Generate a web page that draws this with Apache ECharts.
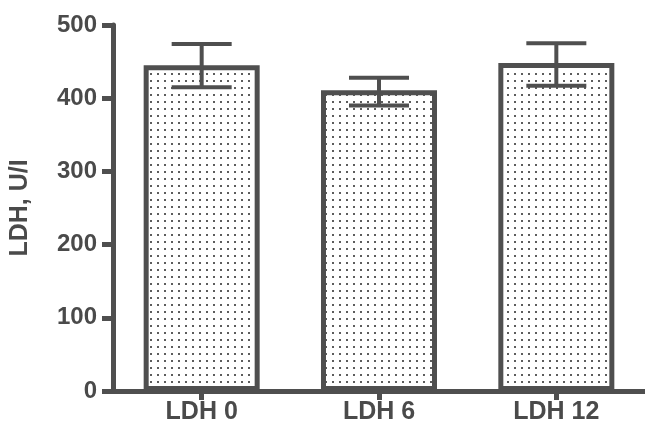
<!DOCTYPE html>
<html><head><meta charset="utf-8">
<script src="https://cdn.jsdelivr.net/npm/echarts@6/dist/echarts.min.js"></script>
<style>html,body{margin:0;padding:0;background:#fff}#c{width:645px;height:427px}</style>
</head><body><div id="c"></div>
<script>
var categories = ['LDH 0', 'LDH 6', 'LDH 12'];
var means = [445, 411, 448];
var errLow = [415, 390, 417];
var errHigh = [474, 428, 475];
var yTicks = [0, 100, 200, 300, 400, 500];

var ink = '#4f4f4f';
// dotted fill pattern
var pc = document.createElement('canvas');
pc.width = 7; pc.height = 7;
var px = pc.getContext('2d');
px.fillStyle = '#ffffff'; px.fillRect(0, 0, 7, 7);
px.fillStyle = '#5c5c5c';
px.fillRect(3, 3, 2, 2);

var chart = echarts.init(document.getElementById('c'));
chart.setOption({
  animation: false,
  grid: { left: 113, top: 25, bottom: 36, width: 540 },
  xAxis: {
    type: 'category', data: categories,
    axisLine: { lineStyle: { color: ink, width: 5 } },
    axisTick: { show: true, alignWithLabel: true, length: 9, lineStyle: { color: ink, width: 5 } },
    axisLabel: { color: '#4a4a4a', fontFamily: 'Liberation Sans, Arial', fontWeight: 'bold', fontSize: 25, margin: 9 }
  },
  yAxis: {
    type: 'value', min: 0, max: 500, interval: 100,
    name: 'LDH, U/I', nameLocation: 'middle', nameGap: 80, nameRotate: 90,
    nameTextStyle: { color: '#4a4a4a', fontFamily: 'Liberation Sans, Arial', fontWeight: 'bold', fontSize: 25 },
    splitLine: { show: false },
    axisLine: { show: true, lineStyle: { color: ink, width: 5 } },
    axisTick: { show: true, length: 11, lineStyle: { color: ink, width: 5 } },
    axisLabel: { color: '#4a4a4a', fontFamily: 'Liberation Sans, Arial', fontWeight: 'bold', fontSize: 24, margin: 16,
      formatter: function (v) { return yTicks.indexOf(v) >= 0 ? String(v) : ''; } }
  },
  series: [
    {
      type: 'bar', data: means, barWidth: 116,
      itemStyle: { color: { image: pc, repeat: 'repeat' }, borderColor: ink, borderWidth: 5 }
    },
    {
      type: 'custom', z: 5,
      data: categories.map(function (c, i) { return [i, errLow[i], errHigh[i]]; }),
      renderItem: function (params, api) {
        var lo = api.coord([api.value(0), api.value(1)]);
        var hi = api.coord([api.value(0), api.value(2)]);
        var hw = 30;
        var st = { stroke: ink, lineWidth: 4 };
        return { type: 'group', children: [
          { type: 'line', shape: { x1: hi[0], y1: hi[1], x2: lo[0], y2: lo[1] }, style: st },
          { type: 'line', shape: { x1: hi[0] - hw, y1: hi[1], x2: hi[0] + hw, y2: hi[1] }, style: st },
          { type: 'line', shape: { x1: lo[0] - hw, y1: lo[1], x2: lo[0] + hw, y2: lo[1] }, style: st }
        ]};
      }
    }
  ]
});
</script></body></html>
